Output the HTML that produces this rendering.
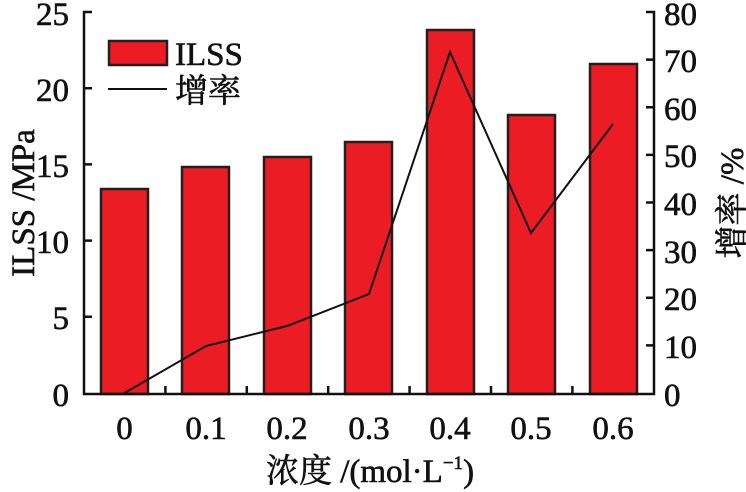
<!DOCTYPE html>
<html><head><meta charset="utf-8"><style>body{margin:0;background:#fff}svg{display:block}</style></head><body>
<svg width="746" height="492" xmlns="http://www.w3.org/2000/svg" font-family="'Liberation Serif','Noto Serif CJK SC',serif" fill="#111">
<g fill="#ec1c24" stroke="#231f20" stroke-width="2.5">
<rect x="101" y="189" width="47" height="205"/>
<rect x="182" y="167" width="47" height="227"/>
<rect x="264" y="157" width="47" height="237"/>
<rect x="345" y="142" width="47" height="252"/>
<rect x="427" y="30" width="47" height="364"/>
<rect x="508" y="115" width="47" height="279"/>
<rect x="590" y="64" width="47" height="330"/>
</g>
<polyline points="124.5,393 206,346 287,326 369,294 450,52 531,233 613,124" fill="none" stroke="#111" stroke-width="2"/>
<g stroke="#111" stroke-width="2.5" fill="none">
<path d="M92,12 H84 V394 H654 V12 H646"/>
<path d="M84,88.2 H92 M84,164.4 H92 M84,240.6 H92 M84,316.8 H92"/>
<path d="M654,59.6 H646 M654,107.3 H646 M654,154.9 H646 M654,202.5 H646 M654,250.1 H646 M654,297.8 H646 M654,345.4 H646"/>
<path d="M165.4,394 V386 M246.8,394 V386 M328.2,394 V386 M409.6,394 V386 M491,394 V386 M572.4,394 V386"/>
</g>
<rect x="109" y="41" width="58" height="24" fill="#ec1c24" stroke="#231f20" stroke-width="2.5"/>
<line x1="108" y1="89" x2="167" y2="89" stroke="#111" stroke-width="2"/>
<g stroke="#111" stroke-width="0.6">
<text x="175" y="65" font-size="33">ILSS</text>
<text x="175" y="102" font-size="33">增率</text>
<g font-size="33" text-anchor="end">
<text x="69" y="25">25</text><text x="69" y="101">20</text><text x="69" y="177">15</text><text x="69" y="253">10</text><text x="69" y="329">5</text><text x="69" y="406">0</text>
</g>
<g font-size="33" text-anchor="start">
<text x="664" y="25">80</text><text x="664" y="72">70</text><text x="664" y="120">60</text><text x="664" y="167">50</text><text x="664" y="215">40</text><text x="664" y="263">30</text><text x="664" y="310">20</text><text x="664" y="358">10</text><text x="664" y="406">0</text>
</g>
<g font-size="33" text-anchor="middle">
<text x="124.5" y="439">0</text><text x="206" y="439">0.1</text><text x="287" y="439">0.2</text><text x="369" y="439">0.3</text><text x="450" y="439">0.4</text><text x="531" y="439">0.5</text><text x="613" y="439">0.6</text>
</g>
<text x="370" y="482" font-size="33" text-anchor="middle">浓度 /(mol·L<tspan font-size="19" dy="-13">−1</tspan><tspan dy="13">)</tspan></text>
<text transform="translate(34,203) rotate(-90)" font-size="33" text-anchor="middle">ILSS /MPa</text>
<text transform="translate(743,203) rotate(-90)" font-size="33" text-anchor="middle">增率 /%</text>
</g>
</svg>
</body></html>
